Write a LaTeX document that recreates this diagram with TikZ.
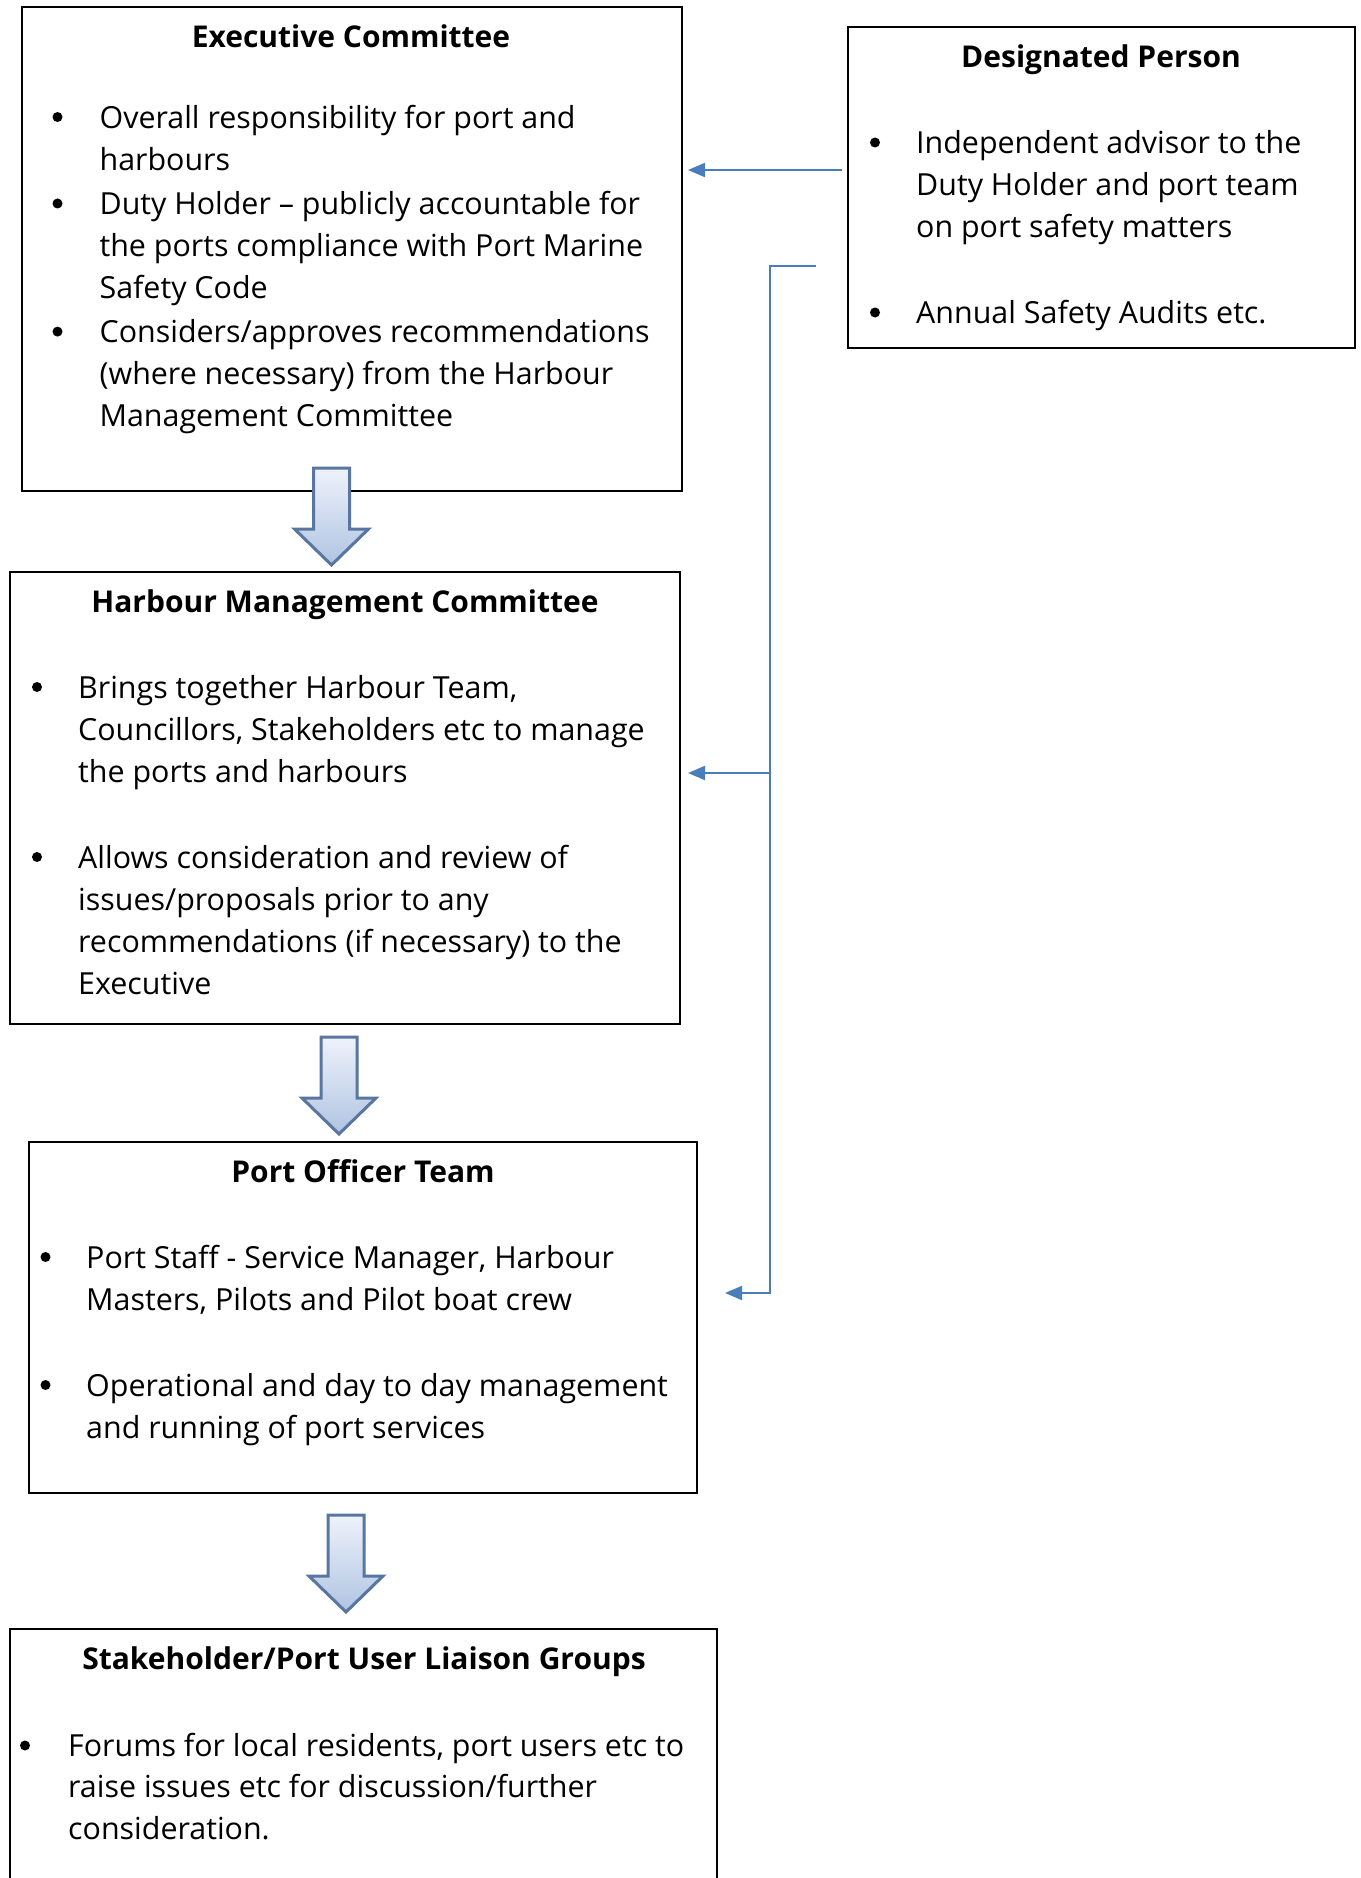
\documentclass[tikz,border=0pt]{standalone}
\usepackage{fontspec}
\setmainfont{Open Sans}
\usetikzlibrary{arrows.meta}
\definecolor{connblue}{HTML}{4A7EBB}
\definecolor{arrowedge}{HTML}{58769F}
\definecolor{arrowtop}{HTML}{EEF2FA}
\definecolor{arrowbot}{HTML}{AFC4E2}
\tikzset{
  box/.style={draw=black, line width=2pt},
  title/.style={font=\fontsize{30}{40}\selectfont\bfseries, anchor=mid, inner sep=0, yshift=-8.4pt},
  item/.style={font=\fontsize{30.4}{40}\selectfont, anchor=mid west, inner sep=0, yshift=-8.4pt},
  dot/.style={circle, fill=black, inner sep=0, minimum size=10pt},
  conn/.style={draw=connblue, line width=2pt},
  tip/.style={-{Triangle[length=17pt,width=14pt]}},
  hollow/.style={draw=arrowedge, line width=3pt, line join=miter, top color=arrowtop, bottom color=arrowbot}
}
\newcommand\Ln[4]{\node[item] (#1) at (#2,#3) {#4};}
\newcommand\Bl[3]{\node[dot] (#1) at (#2,#3) {};}
\newcommand\DownArrow[3]{% cx, top y, name
  \shade[hollow] (#1-18,#2) -- (#1+18,#2) -- (#1+18,#2+61) -- (#1+37,#2+61)
    -- (#1,#2+97) -- (#1-37,#2+61) -- (#1-18,#2+61) -- cycle;}
\begin{document}
\begin{tikzpicture}[x=1pt,y=-1pt]
\clip (0,0) rectangle (1360,1878);
\fill[white] (0,0) rectangle (1360,1878);

% ---------- boxes ----------
\draw[box] (21.5,7) rectangle (682,491);
\draw[box] (848,27.5) rectangle (1355,348);
\draw[box] (9.6,572) rectangle (680,1024);
\draw[box] (28.7,1142) rectangle (697,1493);
\draw[box] (9.6,1629) rectangle (717,1900);

% ---------- hollow arrows ----------
\DownArrow{331.5}{468}{a1}
\DownArrow{339}{1037}{a2}
\DownArrow{346}{1515}{a3}

% ---------- Executive Committee ----------
\node[title] (t1) at (351,36) {Executive Committee};
\Bl{b11}{57.5}{117}
\Ln{l11}{99.4}{117}{Overall responsibility for port and}
\Ln{l12}{99.4}{159}{harbours}
\Bl{b12}{57.5}{203.5}
\Ln{l13}{99.4}{203.5}{Duty Holder – publicly accountable for}
\Ln{l14}{99.4}{245}{the ports compliance with Port Marine}
\Ln{l15}{99.4}{287}{Safety Code}
\Bl{b13}{57.5}{331.6}
\Ln{l16}{99.4}{331.6}{Considers/approves recommendations}
\Ln{l17}{99.4}{373.5}{(where necessary) from the Harbour}
\Ln{l18}{99.4}{415.4}{Management Committee}

% ---------- Designated Person ----------
\node[title] (t2) at (1101,56) {Designated Person};
\Bl{b21}{875}{142.5}
\Ln{l21}{916}{142.5}{Independent advisor to the}
\Ln{l22}{916}{184}{Duty Holder and port team}
\Ln{l23}{916}{226}{on port safety matters}
\Bl{b22}{875}{312.5}
\Ln{l24}{916}{312.5}{Annual Safety Audits etc.}

% ---------- Harbour Management Committee ----------
\node[title] (t3) at (345,601) {Harbour Management Committee};
\Bl{b31}{37}{687}
\Ln{l31}{78}{687}{Brings together Harbour Team,}
\Ln{l32}{78}{729}{Councillors, Stakeholders etc to manage}
\Ln{l33}{78}{771}{the ports and harbours}
\Bl{b32}{37}{857}
\Ln{l34}{78}{857}{Allows consideration and review of}
\Ln{l35}{78}{899}{issues/proposals prior to any}
\Ln{l36}{78}{941}{recommendations (if necessary) to the}
\Ln{l37}{78}{983}{Executive}

% ---------- Port Officer Team ----------
\node[title] (t4) at (363,1171) {Port Officer Team};
\Bl{b41}{45.5}{1257}
\Ln{l41}{86}{1257}{Port Staff - Service Manager, Harbour}
\Ln{l42}{86}{1299}{Masters, Pilots and Pilot boat crew}
\Bl{b42}{45.5}{1385}
\Ln{l43}{86}{1385}{Operational and day to day management}
\Ln{l44}{86}{1427}{and running of port services}

% ---------- Stakeholder ----------
\node[title] (t5) at (364,1658) {Stakeholder/Port User Liaison Groups};
\Bl{b51}{25}{1745.5}
\Ln{l51}{68}{1745.5}{Forums for local residents, port users etc to}
\Ln{l52}{68}{1786}{raise issues etc for discussion/further}
\Ln{l53}{68}{1828}{consideration.}

% ---------- connectors ----------
\coordinate (c1s) at (842,170);
\coordinate (c1e) at (688,170);
\coordinate (c2s) at (816,266);
\coordinate (c2k) at (770,266);
\coordinate (c2m) at (770,773);
\coordinate (c2b) at (770,1293);
\coordinate (c2e) at (725,1293);
\coordinate (c3e) at (688,773);
\draw[conn,tip] (c1s) -- (c1e);
\draw[conn,tip] (c2s) -- (c2k) -- (c2b) -- (c2e);
\draw[conn,tip] (c2m) -- (c3e);
\end{tikzpicture}
\end{document}
